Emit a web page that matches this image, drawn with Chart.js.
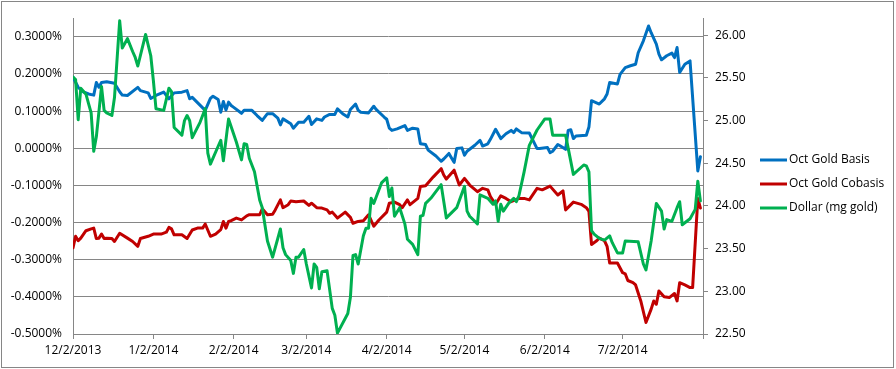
<!DOCTYPE html>
<html>
<head>
<meta charset="utf-8">
<script src="https://cdn.jsdelivr.net/npm/chart.js@4.4.1/dist/chart.umd.min.js"></script>
<style>
  body { margin: 0; background: #fff; }
  canvas { display: block; }
</style>
</head>
<body>
<canvas id="gold_chart" width="896" height="369"></canvas>
<script>
// month ticks on the date axis, plus the (unlabelled) end of the axis
const xTickLabels = ["12/2/2013", "1/2/2014", "2/2/2014", "3/2/2014", "4/2/2014", "5/2/2014", "6/2/2014", "7/2/2014"];
const xAxisEnd = "8/2/2014";

const seriesNames = ["Oct Gold Basis", "Oct Gold Cobasis", "Dollar (mg gold)"];

// Oct Gold Basis, in percent
const basisDates = ["12/2/2013","12/4/2013","12/6/2013","12/8/2013","12/10/2013","12/11/2013","12/12/2013","12/13/2013","12/15/2013","12/18/2013","12/20/2013","12/21/2013","12/23/2013","12/27/2013","12/28/2013","12/31/2013",
  "1/1/2014","1/3/2014","1/6/2014","1/8/2014","1/10/2014","1/13/2014","1/15/2014","1/16/2014","1/17/2014","1/22/2014","1/24/2014","1/25/2014","1/27/2014","1/28/2014","1/29/2014","1/30/2014","1/31/2014",
  "2/1/2014","2/2/2014","2/5/2014","2/6/2014","2/9/2014","2/11/2014","2/13/2014","2/15/2014","2/17/2014","2/19/2014","2/20/2014","2/21/2014","2/24/2014","2/25/2014","2/27/2014",
  "3/1/2014","3/3/2014","3/4/2014","3/6/2014","3/8/2014","3/9/2014","3/11/2014","3/13/2014","3/14/2014","3/16/2014","3/18/2014","3/19/2014","3/21/2014","3/22/2014","3/23/2014","3/26/2014","3/28/2014","3/29/2014",
  "4/1/2014","4/2/2014","4/3/2014","4/4/2014","4/6/2014","4/9/2014","4/10/2014","4/12/2014","4/14/2014","4/15/2014","4/17/2014","4/18/2014","4/21/2014","4/23/2014","4/24/2014","4/26/2014","4/27/2014","4/28/2014","4/29/2014",
  "5/1/2014","5/2/2014","5/3/2014","5/6/2014","5/8/2014","5/9/2014","5/11/2014","5/12/2014","5/14/2014","5/16/2014","5/18/2014","5/20/2014","5/21/2014","5/22/2014","5/24/2014","5/27/2014","5/30/2014","5/31/2014",
  "6/3/2014","6/4/2014","6/5/2014","6/7/2014","6/8/2014","6/10/2014","6/11/2014","6/12/2014","6/13/2014","6/14/2014","6/18/2014","6/19/2014","6/20/2014","6/23/2014","6/25/2014","6/26/2014","6/27/2014","6/30/2014",
  "7/1/2014","7/3/2014","7/5/2014","7/7/2014","7/8/2014","7/10/2014","7/12/2014","7/13/2014","7/15/2014","7/16/2014","7/17/2014","7/19/2014","7/21/2014","7/22/2014","7/23/2014","7/24/2014","7/26/2014","7/28/2014","7/31/2014",
  "8/1/2014"];
const basisValues = [0.191,0.164,0.152,0.146,0.143,0.177,0.164,0.177,0.179,0.175,0.152,0.143,0.142,0.164,0.155,0.149,
  0.134,0.142,0.151,0.133,0.149,0.151,0.155,0.133,0.137,0.102,0.134,0.140,0.131,0.097,0.126,0.103,0.124,
  0.115,0.110,0.094,0.102,0.102,0.088,0.075,0.093,0.093,0.081,0.063,0.079,0.066,0.054,0.070,
  0.070,0.086,0.064,0.079,0.075,0.084,0.091,0.091,0.106,0.093,0.084,0.104,0.119,0.102,0.097,0.095,0.113,0.104,
  0.084,0.078,0.054,0.048,0.052,0.061,0.048,0.054,0.052,0.012,0.010,-0.005,-0.021,-0.035,-0.029,-0.014,-0.026,-0.038,-0.001,
  0.001,-0.019,-0.008,0.008,0.021,0.006,0.012,0.024,0.051,0.026,0.039,0.048,0.042,0.052,0.042,0.041,-0.001,-0.001,
  0.002,-0.012,-0.008,0.010,0.006,-0.003,0.048,0.050,0.026,0.033,0.035,0.057,0.128,0.119,0.133,0.146,0.177,0.173,
  0.199,0.217,0.222,0.226,0.257,0.289,0.329,0.311,0.280,0.253,0.238,0.249,0.256,0.244,0.271,0.204,0.226,0.235,-0.061,
  -0.023];

// Oct Gold Cobasis, in percent
const cobasisDates = ["12/2/2013","12/3/2013","12/4/2013","12/5/2013","12/7/2013","12/9/2013","12/10/2013","12/11/2013","12/12/2013","12/13/2013","12/14/2013","12/15/2013","12/17/2013","12/18/2013","12/20/2013","12/23/2013","12/25/2013","12/27/2013","12/28/2013","12/31/2013",
  "1/2/2014","1/5/2014","1/7/2014","1/8/2014","1/9/2014","1/10/2014","1/13/2014","1/15/2014","1/17/2014","1/19/2014","1/21/2014","1/22/2014","1/24/2014","1/26/2014","1/28/2014","1/29/2014","1/30/2014","1/31/2014",
  "2/1/2014","2/3/2014","2/5/2014","2/7/2014","2/8/2014","2/10/2014","2/12/2014","2/13/2014","2/15/2014","2/17/2014","2/18/2014","2/20/2014","2/21/2014","2/23/2014","2/24/2014","2/26/2014",
  "3/1/2014","3/3/2014","3/4/2014","3/6/2014","3/8/2014","3/10/2014","3/11/2014","3/12/2014","3/14/2014","3/17/2014","3/19/2014","3/20/2014","3/22/2014","3/24/2014","3/26/2014","3/28/2014","3/30/2014",
  "4/2/2014","4/3/2014","4/5/2014","4/7/2014","4/8/2014","4/10/2014","4/11/2014","4/14/2014","4/15/2014","4/17/2014","4/20/2014","4/23/2014","4/24/2014","4/25/2014","4/28/2014","4/30/2014",
  "5/2/2014","5/4/2014","5/7/2014","5/9/2014","5/11/2014","5/12/2014","5/14/2014","5/16/2014","5/18/2014","5/20/2014","5/23/2014","5/25/2014","5/27/2014","5/30/2014",
  "6/1/2014","6/4/2014","6/7/2014","6/9/2014","6/10/2014","6/13/2014","6/16/2014","6/18/2014","6/19/2014","6/20/2014","6/22/2014","6/23/2014","6/25/2014","6/26/2014","6/27/2014","6/30/2014",
  "7/2/2014","7/3/2014","7/4/2014","7/6/2014","7/7/2014","7/9/2014","7/11/2014","7/13/2014","7/14/2014","7/15/2014","7/16/2014","7/18/2014","7/20/2014","7/22/2014","7/23/2014","7/24/2014","7/26/2014","7/28/2014","7/29/2014","7/31/2014",
  "8/1/2014"];
const cobasisValues = [-0.268,-0.237,-0.249,-0.242,-0.222,-0.217,-0.215,-0.243,-0.242,-0.231,-0.243,-0.242,-0.243,-0.251,-0.229,-0.242,-0.251,-0.264,-0.243,-0.237,
  -0.231,-0.231,-0.226,-0.213,-0.217,-0.233,-0.233,-0.243,-0.220,-0.215,-0.215,-0.204,-0.237,-0.231,-0.219,-0.197,-0.215,-0.197,
  -0.195,-0.188,-0.193,-0.182,-0.179,-0.179,-0.179,-0.163,-0.179,-0.178,-0.166,-0.139,-0.160,-0.152,-0.142,-0.144,
  -0.142,-0.154,-0.148,-0.160,-0.161,-0.166,-0.175,-0.172,-0.188,-0.172,-0.186,-0.202,-0.197,-0.195,-0.179,-0.210,-0.193,
  -0.172,-0.148,-0.145,-0.152,-0.160,-0.139,-0.152,-0.135,-0.103,-0.101,-0.077,-0.055,-0.072,-0.083,-0.059,-0.099,
  -0.081,-0.099,-0.117,-0.108,-0.112,-0.130,-0.151,-0.128,-0.135,-0.144,-0.135,-0.135,-0.139,-0.108,
  -0.112,-0.102,-0.126,-0.115,-0.166,-0.145,-0.151,-0.160,-0.170,-0.259,-0.249,-0.242,-0.249,-0.264,-0.309,-0.309,
  -0.335,-0.338,-0.356,-0.362,-0.368,-0.411,-0.469,-0.433,-0.411,-0.420,-0.384,-0.400,-0.402,-0.391,-0.411,-0.362,-0.368,-0.375,-0.375,-0.135,
  -0.161];

// Dollar (mg gold), right axis
const dollarDates = ["12/2/2013","12/3/2013","12/4/2013","12/5/2013","12/7/2013","12/8/2013","12/9/2013","12/10/2013","12/11/2013","12/13/2013","12/14/2013","12/15/2013","12/17/2013","12/18/2013","12/20/2013","12/21/2013","12/23/2013","12/25/2013","12/26/2013","12/27/2013","12/30/2013",
  "1/1/2014","1/2/2014","1/3/2014","1/6/2014","1/8/2014","1/9/2014","1/10/2014","1/13/2014","1/14/2014","1/15/2014","1/16/2014","1/17/2014","1/20/2014","1/22/2014","1/23/2014","1/24/2014","1/28/2014","1/29/2014","1/31/2014",
  "2/3/2014","2/5/2014","2/6/2014","2/7/2014","2/8/2014","2/10/2014","2/12/2014","2/13/2014","2/15/2014","2/17/2014","2/20/2014","2/21/2014","2/22/2014","2/24/2014","2/25/2014","2/26/2014","2/27/2014",
  "3/1/2014","3/2/2014","3/4/2014","3/5/2014","3/6/2014","3/7/2014","3/8/2014","3/10/2014","3/12/2014","3/13/2014","3/14/2014","3/18/2014","3/19/2014","3/20/2014","3/21/2014","3/22/2014","3/24/2014","3/25/2014","3/26/2014","3/27/2014","3/28/2014","3/31/2014",
  "4/2/2014","4/3/2014","4/4/2014","4/5/2014","4/7/2014","4/9/2014","4/10/2014","4/12/2014","4/14/2014","4/15/2014","4/16/2014","4/17/2014","4/19/2014","4/23/2014","4/25/2014","4/29/2014",
  "5/2/2014","5/3/2014","5/4/2014","5/7/2014","5/8/2014","5/11/2014","5/13/2014","5/14/2014","5/15/2014","5/16/2014","5/17/2014","5/19/2014","5/21/2014","5/22/2014","5/23/2014","5/25/2014","5/27/2014","5/30/2014",
  "6/2/2014","6/4/2014","6/5/2014","6/10/2014","6/13/2014","6/17/2014","6/18/2014","6/19/2014","6/20/2014","6/21/2014","6/23/2014","6/25/2014","6/27/2014","6/28/2014","6/30/2014",
  "7/2/2014","7/3/2014","7/8/2014","7/10/2014","7/11/2014","7/13/2014","7/15/2014","7/17/2014","7/18/2014","7/19/2014","7/21/2014","7/23/2014","7/24/2014","7/25/2014","7/28/2014","7/30/2014","7/31/2014",
  "8/1/2014"];
const dollarValues = [25.51,25.48,25.01,25.38,25.31,25.20,25.09,24.64,24.81,25.40,25.12,25.09,25.06,25.27,26.17,25.85,25.96,25.81,25.74,25.64,26.01,
  25.76,25.47,25.14,25.12,25.38,25.34,24.92,24.83,25.00,25.06,25.00,24.80,24.98,25.14,24.62,24.49,24.77,24.53,25.02,
  24.75,24.54,24.73,24.72,24.56,24.40,24.07,23.98,23.59,23.40,23.73,23.51,23.43,23.36,23.21,23.40,23.40,
  23.49,23.32,23.04,23.32,23.28,23.03,23.23,23.24,22.80,22.72,22.51,22.74,22.93,23.42,23.43,23.32,23.65,23.74,23.74,24.09,24.03,24.27,
  24.33,24.11,24.21,23.88,23.98,23.79,23.61,23.55,23.43,23.88,23.89,24.03,24.09,24.25,23.86,23.98,
  24.23,23.94,23.88,23.79,24.13,24.09,24.02,24.06,23.82,24.02,23.94,24.03,24.09,24.05,24.12,24.40,24.71,24.89,
  25.02,25.02,24.83,24.83,24.37,24.48,24.47,24.40,23.71,23.67,23.62,23.60,23.65,23.57,23.45,
  23.45,23.59,23.58,23.32,23.25,23.59,24.03,23.94,23.73,23.84,23.82,23.98,24.05,23.78,23.85,23.96,24.29,
  24.06];

const seriesColors = ["#0070C0", "#C00000", "#00B050"];
const gridGray = "#868686";
const tickFont = { family: "'Open Sans', sans-serif", size: 12 };

// days after the first axis date, so the x axis spaces points like a date axis
function dayOf(s) {
  const [m, d, y] = s.split("/").map(Number);
  return Math.round((Date.UTC(y, m - 1, d) - Date.UTC(2013, 11, 2)) / 864e5);
}
function points(dates, values) {
  return dates.map((d, i) => ({ x: dayOf(d), y: values[i] }));
}
const tickDays = xTickLabels.map(dayOf).concat([dayOf(xAxisEnd)]);

function lineSet(i, dates, values, axis, order) {
  return {
    label: seriesNames[i],
    data: points(dates, values),
    yAxisID: axis,
    borderColor: seriesColors[i],
    backgroundColor: seriesColors[i],
    borderWidth: 3,
    pointRadius: 0,
    tension: 0,
    borderJoinStyle: "round",
    borderCapStyle: "round",
    order: order
  };
}

// legend on the right and the frame round the whole chart
const frameAndLegend = {
  id: "frameAndLegend",
  afterDraw(chart) {
    const ctx = chart.ctx;
    ctx.save();
    ctx.strokeStyle = gridGray;
    ctx.lineWidth = 1;
    ctx.strokeRect(1.5, 1.5, 892, 366);
    ctx.font = "12px 'Open Sans', sans-serif";
    ctx.textBaseline = "middle";
    ctx.fillStyle = "#000";
    seriesNames.forEach((name, i) => {
      const y = 160 + i * 24;
      ctx.strokeStyle = seriesColors[i];
      ctx.lineWidth = 3;
      ctx.beginPath();
      ctx.moveTo(760, y);
      ctx.lineTo(787, y);
      ctx.stroke();
      ctx.fillText(name, 789, y);
    });
    ctx.restore();
  }
};

gold_chart = new Chart("gold_chart", {
  type: "line",
  data: {
    datasets: [
      lineSet(0, basisDates, basisValues, "y", 3),
      lineSet(1, cobasisDates, cobasisValues, "y", 2),
      lineSet(2, dollarDates, dollarValues, "y1", 1)
    ]
  },
  options: {
    responsive: false,
    animation: false,
    events: [],
    layout: { padding: { top: 15, left: 0, right: 0, bottom: 0 } },
    plugins: { legend: { display: false }, tooltip: { enabled: false } },
    scales: {
      x: {
        type: "linear",
        min: 0,
        max: dayOf(xAxisEnd),
        afterBuildTicks: s => { s.ticks = tickDays.map(v => ({ value: v })); },
        afterFit: s => { s.height = 35; },
        ticks: {
          autoSkip: false,
          maxRotation: 0,
          color: "#000",
          font: tickFont,
          padding: 4,
          callback: v => { const i = tickDays.indexOf(v); return i < xTickLabels.length ? xTickLabels[i] : ""; }
        },
        grid: { drawOnChartArea: false, color: gridGray, tickLength: 5 },
        border: { color: gridGray }
      },
      y: {
        position: "left",
        min: -0.5,
        max: 0.35,
        afterBuildTicks: s => { s.ticks = s.ticks.filter(t => t.value < 0.31); },
        afterFit: s => { s.width = 73; },
        ticks: { stepSize: 0.1, color: "#000", font: tickFont, padding: 11, callback: v => v.toFixed(4) + "%" },
        grid: { color: gridGray, drawTicks: false },
        border: { color: gridGray }
      },
      y1: {
        position: "right",
        min: 22.5,
        max: 26.2,
        afterBuildTicks: s => { s.ticks = s.ticks.filter(t => t.value < 26.01); },
        afterFit: s => { s.width = 193; },
        ticks: { stepSize: 0.5, color: "#000", font: tickFont, padding: 7, callback: v => v.toFixed(2) },
        grid: { drawOnChartArea: false, color: gridGray, tickLength: 5 },
        border: { color: gridGray }
      }
    }
  },
  plugins: [frameAndLegend]
});
</script>
</body>
</html>
